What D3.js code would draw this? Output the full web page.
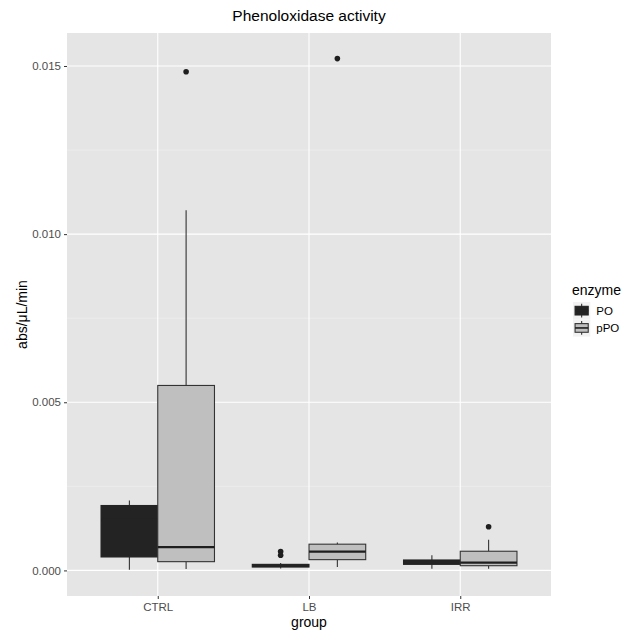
<!DOCTYPE html>
<html>
<head>
<meta charset="utf-8">
<script src="https://cdn.jsdelivr.net/npm/d3@7"></script>
<style>
  body { margin: 0; background: #fff; }
  text { font-family: "Liberation Sans", Arial, sans-serif; }
</style>
</head>
<body>
<svg width="629" height="631"></svg>
<script>
const groups = ['CTRL', 'LB', 'IRR']
const enzymes = ['PO', 'pPO']
// one entry per box: CTRL-PO, CTRL-pPO, LB-PO, LB-pPO, IRR-PO, IRR-pPO
const boxGroup = ['CTRL', 'CTRL', 'LB', 'LB', 'IRR', 'IRR']
const boxEnzyme = ['PO', 'pPO', 'PO', 'pPO', 'PO', 'pPO']
const lowWhisker = [0.00002, 0.00004, 0.00006, 0.00010, 0.00005, 0.00005]
const q1 = [0.00040, 0.00026, 0.00010, 0.00032, 0.00018, 0.00014]
const median = [0.00150, 0.00069, 0.00014, 0.00056, 0.00025, 0.00023]
const q3 = [0.00193, 0.00550, 0.00018, 0.00078, 0.00031, 0.00057]
const highWhisker = [0.00208, 0.01071, 0.00022, 0.00083, 0.00045, 0.00091]
const outlierGroup = ['CTRL', 'LB', 'LB', 'LB', 'IRR']
const outlierEnzyme = ['pPO', 'PO', 'PO', 'pPO', 'pPO']
const outlierValue = [0.01483, 0.00056, 0.00045, 0.01522, 0.00130]
const yTicks = [0, 0.005, 0.010, 0.015]
const yMinor = [0.0025, 0.0075, 0.0125]

const svg = d3.select('svg')
const margin = {top: 33, right: 78, bottom: 35, left: 67}
const width = +svg.attr('width')
const height = +svg.attr('height')
const innerWidth = width - margin.left - margin.right
const innerHeight = height - margin.top - margin.bottom

const fillColor = d3.scaleOrdinal().domain(enzymes).range(['#232323', '#bfbfbf'])
const lineColor = '#333333'
// PO box is so dark that its outline and median merge into the fill
const edgeColor = e => e === 'PO' ? fillColor(e) : lineColor
const medianColor = e => e === 'PO' ? fillColor(e) : '#1e1e1e'

const g = svg.append('g')
  .attr('transform', `translate(${margin.left}, ${margin.top})`)

const allValues = lowWhisker.concat(highWhisker, outlierValue)
const yMin = d3.min(allValues.concat([0]))
const yMax = d3.max(allValues)
const pad = (yMax - yMin) * 0.05
const y = d3.scaleLinear().domain([yMin - pad, yMax + pad]).range([innerHeight, 0])

// discrete x: positions 1..3 with 0.6 expansion each side
const x = d3.scaleLinear().domain([0.4, groups.length + 0.6]).range([0, innerWidth])
const groupPos = d => groups.indexOf(d) + 1
const boxW = 0.375
const dodge = e => (enzymes.indexOf(e) - 0.5) * boxW

g.append('rect')
  .attr('width', innerWidth)
  .attr('height', innerHeight)
  .attr('fill', '#e5e5e5')

g.selectAll('.minor')
  .data(yMinor)
  .join('line')
  .attr('x1', 0).attr('x2', innerWidth)
  .attr('y1', d => y(d)).attr('y2', d => y(d))
  .attr('stroke', '#f2f2f2').attr('stroke-width', 0.55)

g.selectAll('.major')
  .data(yTicks)
  .join('line')
  .attr('x1', 0).attr('x2', innerWidth)
  .attr('y1', d => y(d)).attr('y2', d => y(d))
  .attr('stroke', '#fff').attr('stroke-width', 1.1)

g.selectAll('.vgrid')
  .data(groups)
  .join('line')
  .attr('x1', d => x(groupPos(d))).attr('x2', d => x(groupPos(d)))
  .attr('y1', 0).attr('y2', innerHeight)
  .attr('stroke', '#fff').attr('stroke-width', 1.1)

const boxes = boxGroup.map((grp, i) => ({
  cx: groupPos(grp) + dodge(boxEnzyme[i]),
  enzyme: boxEnzyme[i],
  lo: lowWhisker[i], q1: q1[i], med: median[i], q3: q3[i], hi: highWhisker[i]
}))

const box = g.selectAll('.box')
  .data(boxes)
  .join('g')

box.append('line')
  .attr('x1', d => x(d.cx)).attr('x2', d => x(d.cx))
  .attr('y1', d => y(d.hi)).attr('y2', d => y(d.q3))
  .attr('stroke', lineColor).attr('stroke-width', 1.1)

box.append('line')
  .attr('x1', d => x(d.cx)).attr('x2', d => x(d.cx))
  .attr('y1', d => y(d.q1)).attr('y2', d => y(d.lo))
  .attr('stroke', lineColor).attr('stroke-width', 1.1)

box.append('rect')
  .attr('x', d => x(d.cx - boxW / 2))
  .attr('width', d => x(d.cx + boxW / 2) - x(d.cx - boxW / 2))
  .attr('y', d => y(d.q3))
  .attr('height', d => y(d.q1) - y(d.q3))
  .attr('fill', d => fillColor(d.enzyme))
  .attr('stroke', d => edgeColor(d.enzyme))
  .attr('stroke-width', 1.1)

box.append('line')
  .attr('x1', d => x(d.cx - boxW / 2)).attr('x2', d => x(d.cx + boxW / 2))
  .attr('y1', d => y(d.med)).attr('y2', d => y(d.med))
  .attr('stroke', d => medianColor(d.enzyme))
  .attr('stroke-width', 2.2)

g.selectAll('.outlier')
  .data(outlierValue)
  .join('circle')
  .attr('cx', (d, i) => x(groupPos(outlierGroup[i]) + dodge(outlierEnzyme[i])))
  .attr('cy', d => y(d))
  .attr('r', 2.8)
  .attr('fill', '#1e1e1e')

// axes
const yAxis = g.append('g')
  .call(d3.axisLeft(y).tickValues(yTicks).tickFormat(d3.format('.3f')).tickSize(3).tickPadding(3))
yAxis.select('.domain').remove()
yAxis.selectAll('line').attr('stroke', lineColor)
yAxis.selectAll('text').attr('fill', '#4d4d4d').attr('font-size', 11.5)
  .style('font-family', '"Liberation Sans", Arial, sans-serif')

const xAxis = g.append('g')
  .attr('transform', `translate(0, ${innerHeight})`)
  .call(d3.axisBottom(x).tickValues(groups.map((d, i) => i + 1)).tickFormat(d => groups[d - 1]).tickSize(3).tickPadding(4))
xAxis.select('.domain').remove()
xAxis.selectAll('line').attr('stroke', lineColor)
xAxis.selectAll('text').attr('fill', '#4d4d4d').attr('font-size', 11.5)
  .style('font-family', '"Liberation Sans", Arial, sans-serif')

svg.append('text')
  .attr('x', margin.left + innerWidth / 2)
  .attr('y', 21)
  .attr('text-anchor', 'middle')
  .attr('font-size', 15.5)
  .text('Phenoloxidase activity')

svg.append('text')
  .attr('x', margin.left + innerWidth / 2)
  .attr('y', 627)
  .attr('text-anchor', 'middle')
  .attr('font-size', 14)
  .text('group')

svg.append('text')
  .attr('transform', `translate(27, ${margin.top + innerHeight / 2}) rotate(-90)`)
  .attr('text-anchor', 'middle')
  .attr('font-size', 14)
  .text('abs/μL/min')

// legend
const legend = svg.append('g').attr('transform', 'translate(572, 0)')
legend.append('text')
  .attr('x', 0).attr('y', 295)
  .attr('font-size', 14)
  .text('enzyme')

const keySize = 17.3
const key = legend.selectAll('.key')
  .data(enzymes)
  .join('g')
  .attr('transform', (d, i) => `translate(1, ${302 + i * keySize})`)

key.append('rect')
  .attr('width', keySize).attr('height', keySize)
  .attr('fill', '#f2f2f2')
key.append('line')
  .attr('x1', keySize / 2).attr('x2', keySize / 2)
  .attr('y1', keySize * 0.1).attr('y2', keySize * 0.9)
  .attr('stroke', lineColor).attr('stroke-width', 1.1)
key.append('rect')
  .attr('x', keySize * 0.12).attr('width', keySize * 0.76)
  .attr('y', keySize * 0.25).attr('height', keySize * 0.5)
  .attr('fill', d => fillColor(d))
  .attr('stroke', d => edgeColor(d))
  .attr('stroke-width', 1.1)
key.append('line')
  .attr('x1', keySize * 0.12).attr('x2', keySize * 0.88)
  .attr('y1', keySize / 2).attr('y2', keySize / 2)
  .attr('stroke', d => medianColor(d)).attr('stroke-width', 1.6)
key.append('text')
  .attr('x', keySize + 6).attr('y', keySize / 2)
  .attr('dy', '0.35em')
  .attr('font-size', 11.5)
  .text(d => d)
</script>
</body>
</html>
